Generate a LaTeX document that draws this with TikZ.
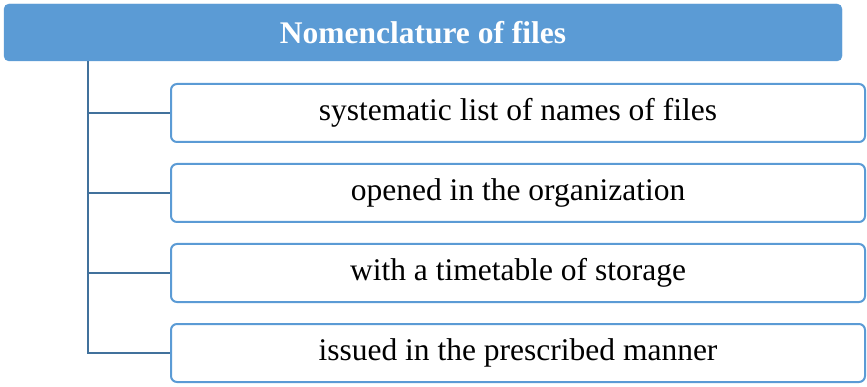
\documentclass[tikz,border=0pt]{standalone}
\usepackage{fontspec}
\setmainfont{Liberation Serif}
\usepackage{tikz}
\usetikzlibrary{positioning}
\definecolor{headblue}{HTML}{5B9BD5}
\definecolor{trunkblue}{HTML}{41719C}
\tikzset{
  headbox/.style={draw=headblue, fill=headblue, rounded corners=5pt, minimum width=838pt, minimum height=57pt, text=white, font=\fontsize{31.5}{36}\selectfont\bfseries},
  itembox/.style={draw=headblue, line width=2pt, fill=white, rounded corners=6pt, minimum width=694pt, minimum height=58pt, font=\fontsize{31.5}{36}\selectfont},
  trunk/.style={draw=trunkblue, line width=2pt}
}
\begin{document}
\begin{tikzpicture}[x=1pt, y=1pt, node distance=20pt]
  \useasboundingbox (0,0) rectangle (867,-387);
  \node[headbox] (head) at (423,-32.5) {Nomenclature of files};
  \node[itembox] (i1) at (518,-113) {systematic list of names of files};
  \node[itembox, below=of i1] (i2) {opened in the organization};
  \node[itembox, below=of i2] (i3) {with a timetable of storage};
  \node[itembox, below=of i3] (i4) {issued in the prescribed manner};

  \coordinate (trunkTop) at (88,0 |- head.south);
  \foreach \n in {i1,i2,i3,i4}
    \draw[trunk] (trunkTop) |- (\n.west);
\end{tikzpicture}
\end{document}
